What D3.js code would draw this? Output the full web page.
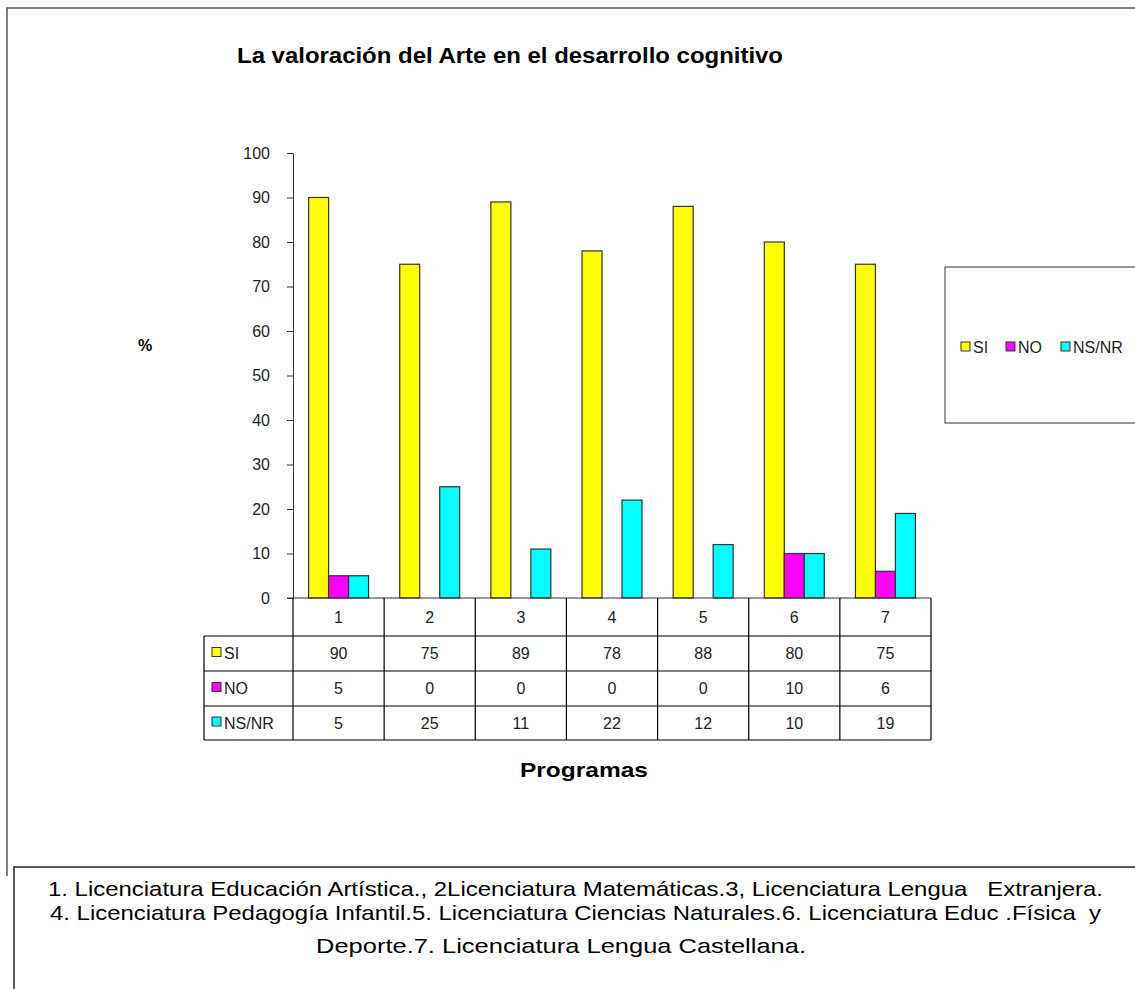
<!DOCTYPE html>
<html>
<head>
<meta charset="utf-8">
<script src="https://cdn.jsdelivr.net/npm/d3@7"></script>
<style>
  body { margin: 0; background: #fff; }
  svg text { font-family: "Liberation Sans", Arial, sans-serif; }
</style>
</head>
<body>
<div id="chart"></div>
<script>
// Données
var programas = ["1", "2", "3", "4", "5", "6", "7"];
var series = ["SI", "NO", "NS/NR"];
var si = [90, 75, 89, 78, 88, 80, 75];
var no = [5, 0, 0, 0, 0, 10, 6];
var nsnr = [5, 25, 11, 22, 12, 10, 19];
var yTicks = [0, 10, 20, 30, 40, 50, 60, 70, 80, 90, 100];
var colores = ["#ffff00", "#ff00ff", "#00ffff"];
var notas = [
    "1. Licenciatura Educación Artística., 2Licenciatura Matemáticas.3, Licenciatura Lengua   Extranjera.",
    "4. Licenciatura Pedagogía Infantil.5. Licenciatura Ciencias Naturales.6. Licenciatura Educ .Física  y",
    "Deporte.7. Licenciatura Lengua Castellana."
];

var valores = [si, no, nsnr];

var width = 1135, height = 989;

var svg = d3.select("#chart").append("svg")
    .attr("width", width)
    .attr("height", height);

// cadre extérieur (haut + gauche seulement visibles)
svg.append("path")
    .attr("d", "M7,876 L7,8 L1135,8")
    .attr("fill", "none")
    .attr("stroke", "#555")
    .attr("stroke-width", 1.5);

// Echelles
var x0 = d3.scaleBand()
    .domain(programas)
    .range([293, 931]);
var bw = x0.bandwidth();
var x1 = d3.scaleBand()
    .domain(series)
    .range([bw * 0.171, bw * 0.829]);
var y = d3.scaleLinear()
    .domain([0, 100])
    .range([598, 153]);
var color = d3.scaleOrdinal().domain(series).range(colores);

// titre
svg.append("text")
    .attr("x", 237)
    .attr("y", 63)
    .attr("font-size", 22)
    .attr("font-weight", "bold")
    .attr("textLength", 546)
    .attr("lengthAdjust", "spacingAndGlyphs")
    .text("La valoración del Arte en el desarrollo cognitivo");

// axe Y
var yAxis = svg.append("g")
    .attr("transform", "translate(293,0)")
    .call(d3.axisLeft(y).tickValues(yTicks).tickSize(6).tickPadding(17).tickSizeOuter(0));
yAxis.select(".domain").attr("stroke", "#333");
yAxis.selectAll(".tick line").attr("stroke", "#333");
yAxis.selectAll(".tick text")
    .attr("font-size", 16)
    .attr("fill", "#222")
    .attr("font-family", "Liberation Sans, Arial, sans-serif");

svg.append("text")
    .attr("x", 145)
    .attr("y", 351)
    .attr("text-anchor", "middle")
    .attr("font-size", 16)
    .attr("font-weight", "bold")
    .text("%");

// barres
var datos = [];
programas.forEach(function (p, i) {
    series.forEach(function (s, j) {
        datos.push({ programa: p, serie: s, valor: valores[j][i] });
    });
});

svg.append("g").selectAll("rect")
    .data(datos.filter(function (d) { return d.valor > 0; }))
    .enter().append("rect")
    .attr("x", function (d) { return x0(d.programa) + x1(d.serie); })
    .attr("y", function (d) { return y(d.valor); })
    .attr("width", x1.bandwidth())
    .attr("height", function (d) { return y(0) - y(d.valor); })
    .attr("fill", function (d) { return color(d.serie); })
    .attr("stroke", "#333")
    .attr("stroke-width", 1.2);

// axe X (ligne de base)
svg.append("line")
    .attr("x1", 287).attr("x2", 931)
    .attr("y1", y(0)).attr("y2", y(0))
    .attr("stroke", "#333");

// tableau de données
var rowTop = 598, rowH = [38, 35, 35, 34];
var rowY = [rowTop];
rowH.forEach(function (h, i) { rowY.push(rowY[i] + h); });
var tableLeft = 204, tableRight = x0.range()[1];
var tabla = svg.append("g").attr("stroke", "#000").attr("stroke-width", 1.2);

// lignes horizontales
rowY.slice(1).forEach(function (yy) {
    tabla.append("line")
        .attr("x1", tableLeft).attr("x2", tableRight)
        .attr("y1", yy).attr("y2", yy);
});
// lignes verticales
programas.forEach(function (p, i) {
    tabla.append("line")
        .attr("x1", x0(p)).attr("x2", x0(p))
        .attr("y1", rowY[0]).attr("y2", rowY[4]);
});
tabla.append("line")
    .attr("x1", tableRight).attr("x2", tableRight)
    .attr("y1", rowY[0]).attr("y2", rowY[4]);
tabla.append("line")
    .attr("x1", tableLeft).attr("x2", tableLeft)
    .attr("y1", rowY[1]).attr("y2", rowY[4]);

// en-têtes de catégories
svg.append("g").selectAll("text")
    .data(programas)
    .enter().append("text")
    .attr("x", function (d) { return x0(d) + bw / 2; })
    .attr("y", (rowY[0] + rowY[1]) / 2)
    .attr("dy", "0.35em")
    .attr("text-anchor", "middle")
    .attr("font-size", 16)
    .attr("fill", "#222")
    .text(function (d) { return d; });

// lignes de valeurs
series.forEach(function (s, j) {
    var cy = (rowY[j + 1] + rowY[j + 2]) / 2;
    var g = svg.append("g");
    g.append("rect")
        .attr("x", 212).attr("y", cy - 6)
        .attr("width", 9).attr("height", 9)
        .attr("fill", color(s))
        .attr("stroke", "#333");
    g.append("text")
        .attr("x", 224).attr("y", cy)
        .attr("dy", "0.35em")
        .attr("font-size", 16)
        .attr("fill", "#222")
        .text(s);
    g.selectAll(".val")
        .data(valores[j])
        .enter().append("text")
        .attr("class", "val")
        .attr("x", function (d, i) { return x0(programas[i]) + bw / 2; })
        .attr("y", cy)
        .attr("dy", "0.35em")
        .attr("text-anchor", "middle")
        .attr("font-size", 16)
        .attr("fill", "#222")
        .text(function (d) { return d; });
});

svg.append("text")
    .attr("x", 584)
    .attr("y", 777)
    .attr("text-anchor", "middle")
    .attr("font-size", 21)
    .attr("font-weight", "bold")
    .attr("textLength", 128)
    .attr("lengthAdjust", "spacingAndGlyphs")
    .text("Programas");

// légende
svg.append("rect")
    .attr("x", 945).attr("y", 267)
    .attr("width", 260).attr("height", 156)
    .attr("fill", "#fff")
    .attr("stroke", "#333");

var legX = [961, 1006, 1061];
var leyenda = svg.append("g").selectAll("g")
    .data(series)
    .enter().append("g")
    .attr("transform", function (d, i) { return "translate(" + legX[i] + ",342)"; });
leyenda.append("rect")
    .attr("width", 9).attr("height", 9)
    .attr("fill", function (d) { return color(d); })
    .attr("stroke", "#333");
leyenda.append("text")
    .attr("x", 12).attr("y", 5)
    .attr("dy", "0.35em")
    .attr("font-size", 16)
    .attr("fill", "#222")
    .text(function (d) { return d; });

// boîte de notes
svg.append("rect")
    .attr("x", 14).attr("y", 867)
    .attr("width", 1200).attr("height", 200)
    .attr("fill", "#fff")
    .attr("stroke", "#222")
    .attr("stroke-width", 1.5);

var notaX = [48, 50, 316];
var notaY = [896, 920, 953];
var notaW = [1055, 1051, 490];
svg.append("g").selectAll("text")
    .data(notas)
    .enter().append("text")
    .attr("x", function (d, i) { return notaX[i]; })
    .attr("y", function (d, i) { return notaY[i]; })
    .attr("font-size", 21)
    .attr("fill", "#000")
    .style("white-space", "pre")
    .attr("textLength", function (d, i) { return notaW[i]; })
    .attr("lengthAdjust", "spacingAndGlyphs")
    .text(function (d) { return d; });
</script>
</body>
</html>
